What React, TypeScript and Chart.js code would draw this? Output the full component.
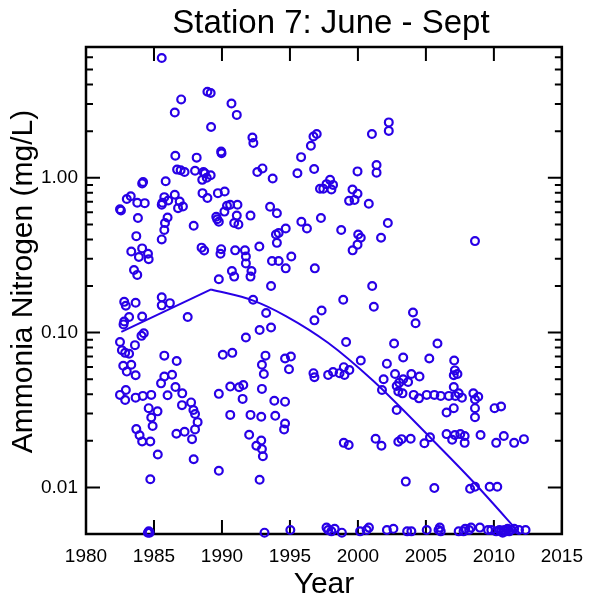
import React, { useEffect, useRef } from 'react';
import { Chart, registerables } from 'chart.js';

Chart.register(...registerables);

const TITLE = 'Station 7: June - Sept';
const X_TITLE = 'Year';
const Y_TITLE = 'Ammonia Nitrogen (mg/L)';
const X_TICKS = [1980, 1985, 1990, 1995, 2000, 2005, 2010, 2015];
const Y_TICKS = [0.01, 0.1, 1];
const X_MIN = 1980;
const X_MAX = 2015;
const Y_MIN = 0.005;
const Y_MAX = 7;

// [year, mg/L]
const HIGH_SAMPLES: [number, number][] = [
  [1985.57, 5.94], [1986.53, 2.64], [1987.0, 3.21], [1988.93, 3.6], [1989.17, 3.53], [1989.2, 2.13],
  [1990.7, 3.02], [1991.09, 2.55], [1992.24, 1.82], [1992.31, 1.68], [1986.57, 1.39], [1988.14, 1.35],
  [1989.94, 1.48], [1989.97, 1.44], [1986.7, 1.13], [1986.96, 1.12], [1987.25, 1.09], [1988.02, 1.11],
  [1988.64, 1.09], [1988.74, 1.07], [1988.55, 0.97], [1988.88, 1.0], [1989.17, 1.04], [1985.86, 0.95],
  [1984.13, 0.92], [1984.2, 0.94], [1992.6, 1.09], [1992.98, 1.15], [1993.73, 0.99], [1995.55, 1.07],
  [2002.27, 2.28], [2002.27, 2.01], [2001.03, 1.92], [1996.97, 1.92], [1996.73, 1.85], [1996.54, 1.61],
  [1995.82, 1.36], [1996.78, 1.14], [2001.37, 1.21], [2001.37, 1.08], [1999.97, 1.1], [1997.21, 0.85],
  [1997.45, 0.85], [1997.69, 0.91], [1997.95, 0.97], [1998.17, 0.9], [1998.05, 0.84], [1999.6, 0.84],
  [1999.97, 0.79], [1999.35, 0.71], [1999.75, 0.72], [2000.8, 0.68], [1982.5, 0.627], [1982.57, 0.615],
  [1983.0, 0.73], [1983.29, 0.76], [1983.77, 0.69], [1984.32, 0.686], [1983.82, 0.55], [1985.57, 0.669],
  [1985.62, 0.69], [1985.76, 0.75], [1986.05, 0.713], [1986.53, 0.777], [1986.77, 0.637], [1987.13, 0.652],
  [1986.89, 0.703], [1986.0, 0.554], [1985.81, 0.51], [1988.57, 0.796], [1988.93, 0.74], [1989.7, 0.796],
  [1990.2, 0.815], [1990.37, 0.66], [1989.58, 0.56], [1989.65, 0.54], [1989.77, 0.52], [1990.18, 0.605],
  [1990.6, 0.67], [1991.14, 0.67], [1991.09, 0.57], [1990.9, 0.51], [1991.21, 0.5], [1992.1, 0.57],
  [1993.54, 0.65], [1994.04, 0.59], [1997.28, 0.55], [1995.84, 0.52], [2002.2, 0.51],
];

const MID_SAMPLES: [number, number][] = [
  [1985.76, 0.46], [1985.57, 0.4], [1987.92, 0.49], [1983.7, 0.42], [1983.33, 0.334], [1984.13, 0.35],
  [1983.89, 0.308], [1984.56, 0.323], [1984.61, 0.298], [1983.53, 0.254], [1983.77, 0.236], [1988.5, 0.354],
  [1988.69, 0.339], [1989.94, 0.346], [1989.89, 0.323], [1990.97, 0.34], [1991.69, 0.34], [1991.76, 0.31],
  [1991.76, 0.28], [1992.17, 0.25], [1992.1, 0.23], [1992.75, 0.36], [1989.77, 0.221], [1990.73, 0.25],
  [1990.9, 0.23], [1994.69, 0.47], [1993.97, 0.43], [1994.17, 0.44], [1994.04, 0.38], [1993.68, 0.29],
  [1994.17, 0.29], [1994.69, 0.26], [1995.1, 0.31], [1993.61, 0.2], [1996.25, 0.47], [1998.77, 0.46],
  [2000.02, 0.43], [2000.21, 0.41], [1999.97, 0.37], [1999.61, 0.34], [2001.7, 0.41], [1996.83, 0.26],
  [2008.61, 0.39], [2001.05, 0.2], [1998.92, 0.163], [2001.17, 0.147], [1997.33, 0.139], [1996.8, 0.12],
  [2004.05, 0.135], [2004.24, 0.115], [1982.81, 0.158], [1982.93, 0.149], [1983.65, 0.156], [1984.13, 0.127],
  [1982.81, 0.118], [1982.76, 0.113], [1983.17, 0.126], [1985.57, 0.169], [1985.57, 0.15], [1986.17, 0.155],
  [1987.48, 0.126], [1992.29, 0.163], [1993.25, 0.134], [1993.61, 0.108], [1992.77, 0.104],
];

const LOW_SAMPLES: [number, number][] = [
  [1991.76, 0.093], [1982.5, 0.087], [1982.64, 0.077], [1982.88, 0.074], [1983.17, 0.073], [1983.6, 0.083],
  [1984.08, 0.0953], [1984.25, 0.099], [1982.74, 0.061], [1983.33, 0.062], [1983.0, 0.056], [1983.65, 0.053],
  [1985.76, 0.071], [1986.67, 0.0656], [1986.33, 0.0534], [1985.76, 0.052], [1990.06, 0.072], [1990.76, 0.074],
  [1992.94, 0.062], [1993.2, 0.071], [1993.08, 0.054], [1994.64, 0.068], [1994.93, 0.058], [1995.07, 0.07],
  [1999.13, 0.087], [2002.66, 0.085], [2003.33, 0.069], [2002.13, 0.063], [2000.21, 0.066], [2005.85, 0.085],
  [2005.25, 0.068], [2007.08, 0.066], [2007.13, 0.057], [2007.32, 0.054], [2007.05, 0.053], [1996.73, 0.0547],
  [1996.8, 0.0515], [1997.81, 0.0533], [1998.17, 0.0557], [1998.65, 0.0547], [1998.96, 0.0598], [1999.37, 0.0574],
  [1999.01, 0.0533], [2001.89, 0.05], [2002.73, 0.054], [2003.93, 0.054], [2004.53, 0.052], [2003.33, 0.05],
  [1982.5, 0.0396], [1982.93, 0.0426], [1982.88, 0.0367], [1983.65, 0.038], [1984.18, 0.039], [1984.8, 0.0396],
  [1984.61, 0.0325], [1985.26, 0.031], [1984.8, 0.0283], [1984.9, 0.0249], [1985.52, 0.047], [1986.0, 0.0394],
  [1986.58, 0.0445], [1987.08, 0.0405], [1987.06, 0.034], [1987.73, 0.0354], [1987.9, 0.0316], [1988.02, 0.0298],
  [1988.21, 0.0264], [1988.02, 0.0237], [1987.8, 0.0205], [1987.92, 0.0152], [1987.25, 0.0229], [1986.65, 0.0222],
  [1983.7, 0.0238], [1983.94, 0.0217], [1984.13, 0.0198], [1984.73, 0.0198], [1985.28, 0.0163], [1984.73, 0.0113],
  [1989.77, 0.0402], [1990.61, 0.0448], [1991.26, 0.0444], [1991.57, 0.0459], [1991.52, 0.0373], [1992.94, 0.0433],
  [1990.61, 0.0294], [1992.1, 0.0294], [1992.89, 0.0286], [1993.85, 0.0363], [1994.64, 0.0358], [1993.92, 0.029],
  [1994.64, 0.0259], [1994.57, 0.0237], [1992.0, 0.0219], [1992.53, 0.0186], [1992.89, 0.0201], [1992.94, 0.0177],
  [1993.01, 0.0159], [1989.77, 0.0128], [1992.77, 0.0112], [2001.77, 0.0426], [2002.85, 0.0452], [2002.97, 0.0416],
  [2003.28, 0.0405], [2003.69, 0.048], [2003.04, 0.0475], [2004.1, 0.0396], [2004.49, 0.0376], [2005.06, 0.0396],
  [2005.62, 0.0396], [2006.09, 0.039], [2006.69, 0.039], [2007.05, 0.0445], [2007.17, 0.039], [2007.41, 0.0405],
  [2007.65, 0.038], [2008.49, 0.0405], [2008.85, 0.0385], [2008.61, 0.037], [2008.61, 0.0325], [2008.61, 0.0284],
  [2006.52, 0.0305], [2007.05, 0.0325], [2002.85, 0.0316], [2010.05, 0.0325], [2010.53, 0.0333], [2001.3, 0.0206],
  [2001.73, 0.0186], [2002.97, 0.0197], [2003.21, 0.0205], [2003.88, 0.0206], [2004.89, 0.0193], [2005.3, 0.0211],
  [2006.52, 0.0221], [2006.93, 0.0203], [2007.13, 0.0218], [2007.53, 0.0221], [2007.85, 0.0215], [2007.85, 0.0194],
  [2009.02, 0.0218], [2010.17, 0.0194], [2010.73, 0.0215], [2011.49, 0.0194], [2012.21, 0.0205], [2003.52, 0.0109],
  [2005.62, 0.0099], [2008.25, 0.0098], [2008.61, 0.0101], [2009.69, 0.0101], [2010.25, 0.0101], [1998.96, 0.0194],
  [1999.32, 0.0188],
];

const BELOW_DETECTION: [number, number][] = [
  [1984.55, 0.0051], [1984.62, 0.0052], [1984.68, 0.0051], [1993.13, 0.0051], [1995.03, 0.0053],
  [1997.69, 0.0055], [1997.81, 0.0053], [1998.05, 0.0052], [1998.29, 0.0054], [1998.82, 0.0051],
  [2000.16, 0.0052], [2000.64, 0.0053], [2000.81, 0.0055], [2002.13, 0.0053], [2002.61, 0.0054],
  [2003.62, 0.0052], [2003.93, 0.0052], [2005.06, 0.0053], [2005.93, 0.0053], [2006.02, 0.0055],
  [2006.09, 0.0052], [2007.41, 0.0052], [2007.77, 0.0052], [2007.89, 0.0054], [2008.18, 0.0053],
  [2008.32, 0.0055], [2008.97, 0.0055], [2009.57, 0.0053], [2009.81, 0.0053], [2010.17, 0.0052],
  [2010.41, 0.0053], [2010.53, 0.0052], [2010.65, 0.0051], [2010.77, 0.0053], [2010.89, 0.0052],
  [2011.01, 0.0054], [2011.13, 0.0052], [2011.25, 0.0053], [2011.49, 0.0054], [2011.85, 0.0053],
  [2012.33, 0.0053],
];

const TREND_RISE: [number, number][] = [[1982.6, 0.101], [1989.2, 0.19]];
const TREND_FALL: [number, number][] = [
  [1989.2, 0.19], [1992.3, 0.161], [1994.7, 0.128], [1997.8, 0.086], [2001.1, 0.049],
  [2005.25, 0.0213], [2008.6, 0.0106], [2011.6, 0.0054], [2012.3, 0.0046],
];

const BLUE = '#2800e6';
const FONT = "'Liberation Sans', Arial, sans-serif";

const toXY = (arr: [number, number][]) => arr.map(([x, y]) => ({ x, y }));

const frameTicks = {
  id: 'frameTicks',
  beforeDatasetsDraw(chart: any) {
    const { ctx, chartArea, scales } = chart;
    const { left, right, top, bottom } = chartArea;
    const xs = scales.x;
    const ys = scales.y;
    ctx.save();
    ctx.strokeStyle = '#000';
    ctx.lineWidth = 2;
    ctx.beginPath();
    X_TICKS.forEach((v) => {
      const px = xs.getPixelForValue(v);
      ctx.moveTo(px, bottom);
      ctx.lineTo(px, bottom - 14);
      ctx.moveTo(px, top);
      ctx.lineTo(px, top + 14);
    });
    Y_TICKS.forEach((decade) => {
      const py = ys.getPixelForValue(decade);
      ctx.moveTo(left, py);
      ctx.lineTo(left + 14, py);
      ctx.moveTo(right, py);
      ctx.lineTo(right - 14, py);
      for (let m = 2; m <= 9; m++) {
        const v = m * decade;
        if (v > Y_MAX) break;
        const pm = ys.getPixelForValue(v);
        ctx.moveTo(left, pm);
        ctx.lineTo(left + 7, pm);
        ctx.moveTo(right, pm);
        ctx.lineTo(right - 7, pm);
      }
    });
    ctx.stroke();
    ctx.lineWidth = 2.5;
    ctx.strokeRect(left, top, right - left, bottom - top);
    ctx.restore();
  },
  afterDraw(chart: any) {
    const { ctx, chartArea } = chart;
    ctx.save();
    ctx.fillStyle = '#000';
    // main title
    ctx.font = `33px ${FONT}`;
    ctx.textAlign = 'center';
    ctx.textBaseline = 'alphabetic';
    ctx.fillText(TITLE, (chartArea.left + chartArea.right) / 2 + 7, 33);
    // y-axis title
    ctx.font = `30px ${FONT}`;
    ctx.translate(24, (chartArea.top + chartArea.bottom) / 2 - 9);
    ctx.rotate(-Math.PI / 2);
    ctx.textBaseline = 'middle';
    ctx.fillText(Y_TITLE, 0, 0);
    ctx.restore();
  },
};

export default function App() {
  const ref = useRef<HTMLCanvasElement | null>(null);

  useEffect(() => {
    if (!ref.current) return;
    const pointDs = (data: [number, number][]) => ({
      type: 'scatter' as const,
      data: toXY(data),
      borderColor: BLUE,
      backgroundColor: 'rgba(0,0,0,0)',
      pointRadius: 3.9,
      pointBorderWidth: 2.2,
      pointHoverRadius: 3.9,
      clip: false as any,
    });
    const chart = new Chart(ref.current, {
      type: 'scatter',
      data: {
        datasets: [
          {
            type: 'line',
            data: toXY(TREND_RISE),
            borderColor: BLUE,
            borderWidth: 2,
            pointRadius: 0,
            tension: 0,
          } as any,
          {
            type: 'line',
            data: toXY(TREND_FALL),
            borderColor: BLUE,
            borderWidth: 2,
            pointRadius: 0,
            cubicInterpolationMode: 'monotone',
          } as any,
          pointDs(HIGH_SAMPLES),
          pointDs(MID_SAMPLES),
          pointDs(LOW_SAMPLES),
          pointDs(BELOW_DETECTION),
        ],
      },
      options: {
        animation: false,
        responsive: true,
        maintainAspectRatio: false,
        layout: { padding: { left: 0, right: 22, top: 47, bottom: 0 } },
        plugins: {
          legend: { display: false },
          tooltip: { enabled: false },
          title: { display: false },
        },
        scales: {
          x: {
            type: 'linear',
            min: X_MIN,
            max: X_MAX,
            grid: { display: false, drawTicks: false },
            border: { display: false },
            afterBuildTicks: (scale: any) => {
              scale.ticks = X_TICKS.map((v) => ({ value: v }));
            },
            afterFit: (scale: any) => {
              scale.height = 66;
            },
            ticks: {
              color: '#000',
              padding: 11,
              maxRotation: 0,
              autoSkip: false,
              font: { family: FONT, size: 19, lineHeight: 1.2 },
              callback: (v: any) => String(v),
            },
            title: {
              display: true,
              text: X_TITLE,
              color: '#000',
              font: { family: FONT, size: 30, lineHeight: 1 },
              padding: { top: 0, bottom: 0 },
            },
          },
          y: {
            type: 'logarithmic',
            min: Y_MIN,
            max: Y_MAX,
            grid: { display: false, drawTicks: false },
            border: { display: false },
            afterBuildTicks: (scale: any) => {
              scale.ticks = Y_TICKS.map((v) => ({ value: v }));
            },
            afterFit: (scale: any) => {
              scale.width = 86;
            },
            ticks: {
              color: '#000',
              padding: 8,
              autoSkip: false,
              font: { family: FONT, size: 19, lineHeight: 1.2 },
              callback: (v: any) => Number(v).toFixed(2),
            },
            title: { display: false },
          },
        },
      },
      plugins: [frameTicks],
    });
    return () => chart.destroy();
  }, []);

  return (
    <div style={{ position: 'fixed', left: 0, top: 0, width: 594, height: 600, background: '#fff' }}>
      <canvas ref={ref} />
    </div>
  );
}
